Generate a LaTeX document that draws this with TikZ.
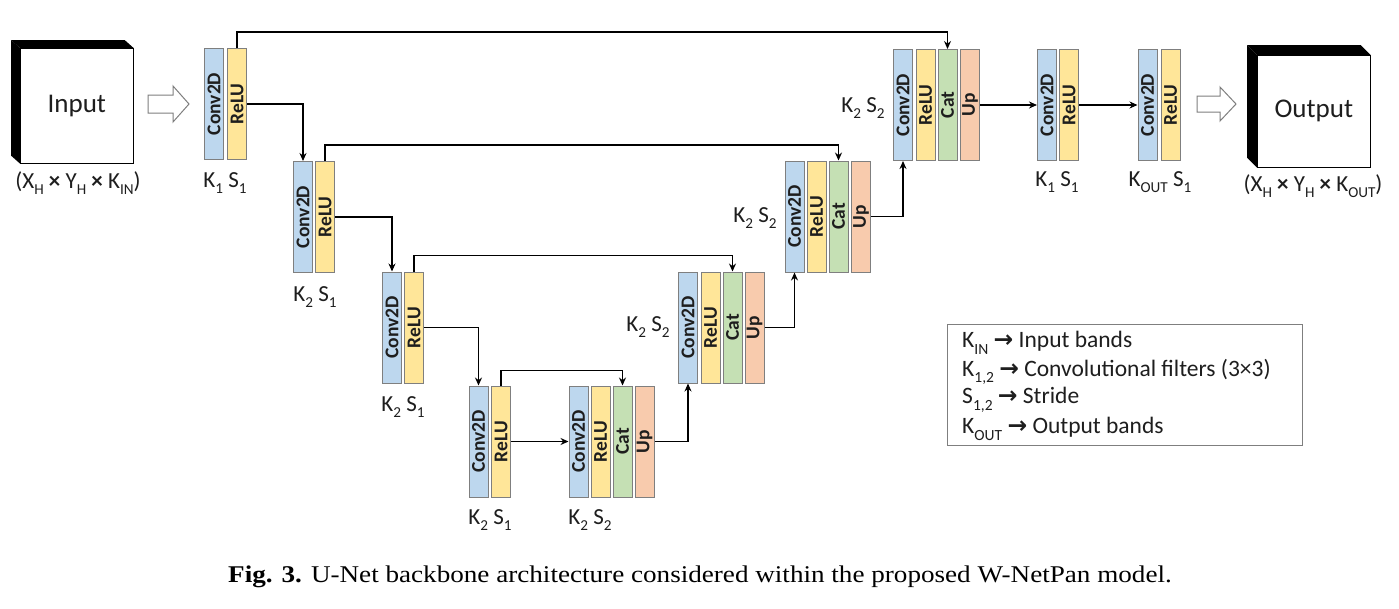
\documentclass[tikz,border=0pt]{standalone}
\usepackage{fontspec}
\setmainfont{Carlito}
\newfontfamily\capfont{Liberation Serif}
\newfontfamily\arrfont{DejaVu Sans}
\usetikzlibrary{arrows.meta,calc}
\definecolor{cblue}{HTML}{BDD7EE}
\definecolor{cyel}{HTML}{FFE699}
\definecolor{cgrn}{HTML}{C5E0B4}
\definecolor{cpch}{HTML}{F8CBAD}
\definecolor{lgray}{HTML}{7F7F7F}
\definecolor{txt}{HTML}{1E1E1E}
\newcommand\sbs[1]{\raisebox{-0.28em}{\scalebox{0.66}{#1}}}
\newcommand\tms{{\bfseries ×}}
\newcommand\rar{{\arrfont\bfseries →}}
\tikzset{
 layer/.style={draw=lgray, line width=1pt, minimum width=19pt, minimum height=111pt, inner sep=0pt},
 ltext/.style={rotate=90, font=\fontsize{19.5}{19.5}\selectfont\bfseries, text=txt, inner sep=0pt},
 arr/.style={line width=1.8pt, -{Stealth[length=8pt,width=7pt]}},
 lab/.style={font=\fontsize{23}{23}\selectfont, text=txt, inner sep=0pt},
 hollow/.style={draw=lgray, line width=1pt, fill=white},
 cube/.style={draw=black, line width=0.6pt, fill=white, anchor=north west, inner sep=0pt, font=\fontsize{27}{27}\selectfont, text=txt},
 legtxt/.style={font=\fontsize{23.5}{23.5}\selectfont, text=txt, anchor=west, inner sep=0pt},
}
\newcommand\lay[5]{\node[layer,fill=#4] (#1) at (#2,#3) {}; \node[ltext] (#1t) at (#1.center) {#5};}
\begin{document}
\begin{tikzpicture}[x=1pt,y=-1pt]
\useasboundingbox[fill=white] (0,0) rectangle (1399,608);
% input cube
\node[cube, minimum width=113pt, minimum height=115pt] (inp) at (20,48) {Input};
\fill (inp.north west) -- ++(-9,-8) -- ($(inp.north east)+(-9,-8)$) -- (inp.north east) -- cycle;
\fill (inp.north west) -- ++(-9,-8) -- ($(inp.south west)+(-9,-8)$) -- (inp.south west) -- cycle;
\node[lab] (inpl) at (78,183) {(X\sbs{H} \tms{} Y\sbs{H} \tms{} K\sbs{IN})};
\draw[hollow] (148,95) -- (173,95) -- (173,86) -- (189,104) -- (173,122) -- (173,113) -- (148,113) -- cycle;
% output cube
\node[cube, minimum width=113pt, minimum height=112pt] (outp) at (1257,55) {Output};
\fill (outp.north west) -- ++(-10,-10) -- ($(outp.north east)+(-10,-10)$) -- (outp.north east) -- cycle;
\fill (outp.north west) -- ++(-10,-10) -- ($(outp.south west)+(-10,-10)$) -- (outp.south west) -- cycle;
\node[lab] (outl) at (1313,186) {(X\sbs{H} \tms{} Y\sbs{H} \tms{} K\sbs{OUT})};
\draw[hollow] (1197,96) -- (1220,96) -- (1220,87) -- (1236,104) -- (1220,121) -- (1220,112) -- (1197,112) -- cycle;
% blocks
\lay{c1}{214}{104}{cblue}{Conv2D}\lay{r1}{237}{104}{cyel}{ReLU}
\lay{c2}{303}{217}{cblue}{Conv2D}\lay{r2}{325}{217}{cyel}{ReLU}
\lay{c3}{392}{327.5}{cblue}{Conv2D}\lay{r3}{414}{327.5}{cyel}{ReLU}
\lay{c4}{478.5}{441.5}{cblue}{Conv2D}\lay{r4}{501}{441.5}{cyel}{ReLU}
\lay{c5}{578.5}{441.5}{cblue}{Conv2D}\lay{r5}{600.5}{441.5}{cyel}{ReLU}\lay{g5}{622.5}{441.5}{cgrn}{Cat}\lay{u5}{644.5}{441.5}{cpch}{Up}
\lay{c6}{688}{327.5}{cblue}{Conv2D}\lay{r6}{710.5}{327.5}{cyel}{ReLU}\lay{g6}{732.5}{327.5}{cgrn}{Cat}\lay{u6}{754.5}{327.5}{cpch}{Up}
\lay{c7}{794.5}{216.5}{cblue}{Conv2D}\lay{r7}{816.5}{216.5}{cyel}{ReLU}\lay{g7}{838.5}{216.5}{cgrn}{Cat}\lay{u7}{861}{216.5}{cpch}{Up}
\lay{c8}{903}{105}{cblue}{Conv2D}\lay{r8}{925.5}{105}{cyel}{ReLU}\lay{g8}{947.5}{105}{cgrn}{Cat}\lay{u8}{970}{105}{cpch}{Up}
\lay{c9}{1047}{105}{cblue}{Conv2D}\lay{r9}{1069}{105}{cyel}{ReLU}
\lay{c10}{1147.5}{105}{cblue}{Conv2D}\lay{r10}{1170.5}{105}{cyel}{ReLU}
% labels
\node[lab] (l1) at (225,183) {K\sbs{1} S\sbs{1}};
\node[lab] (l2) at (315,297) {K\sbs{2} S\sbs{1}};
\node[lab] (l3) at (403,407) {K\sbs{2} S\sbs{1}};
\node[lab] (l4) at (490,520) {K\sbs{2} S\sbs{1}};
\node[lab] (l5) at (590,520) {K\sbs{2} S\sbs{2}};
\node[lab] (l6) at (648,327) {K\sbs{2} S\sbs{2}};
\node[lab] (l7) at (755,218) {K\sbs{2} S\sbs{2}};
\node[lab] (l8) at (863,108) {K\sbs{2} S\sbs{2}};
\node[lab] (l9) at (1057,182) {K\sbs{1} S\sbs{1}};
\node[lab] (l10) at (1160,182) {K\sbs{OUT} S\sbs{1}};
% connectors
\draw[arr] (r1.east) -| (c2.north);
\draw[arr] (r2.east) -| (c3.north);
\draw[arr] (r3.east) -| (c4.north);
\draw[arr] (r4.east) -- (c5.west);
\draw[arr] (u5.east) -| (c6.south);
\draw[arr] (u6.east) -| (c7.south);
\draw[arr] (u7.east) -| (c8.south);
\draw[arr] (u8.east) -- (c9.west);
\draw[arr] (r9.east) -- (c10.west);
% skips
\draw[arr] (r1.north) -- ++(0,-16) -| (g8.north);
\draw[arr] (r2.north) -- ++(0,-16) -| (g7.north);
\draw[arr] (r3.north) -- ++(0,-16) -| (g6.north);
\draw[arr] (r4.north) -- ++(0,-15) -| (g5.north);
% legend
\node[draw=lgray, line width=1pt, anchor=north west, minimum width=355pt, minimum height=121pt, inner sep=0pt] (leg) at (947,324) {};
\node[legtxt] (lg1) at (962,343) {K\sbs{IN} \rar{} Input bands};
\node[legtxt] (lg2) at (962,372) {K\sbs{1,2} \rar{} Convolutional filters (3×3)};
\node[legtxt] (lg3) at (962,400) {S\sbs{1,2} \rar{} Stride};
\node[legtxt] (lg4) at (962,429) {K\sbs{OUT} \rar{} Output bands};
% caption
\node[font=\capfont\fontsize{24}{24}\selectfont, inner sep=0pt] (cap) at (700,577) {\scalebox{1.13}[1]{\textbf{Fig. 3.} U-Net backbone architecture considered within the proposed W-NetPan model.}};
\end{tikzpicture}
\end{document}
